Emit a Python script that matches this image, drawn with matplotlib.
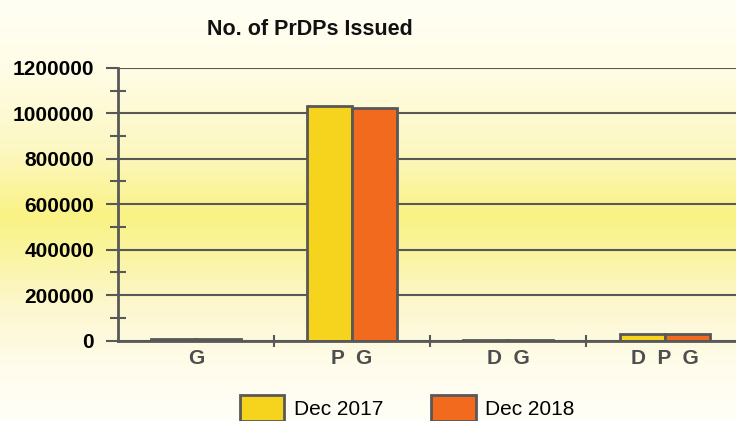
import numpy as np
import matplotlib.pyplot as plt
from matplotlib.patches import Patch

# data
categories = ["G", "P  G", "D  G", "D  P  G"]
dec_2017 = [8000, 1030000, 2000, 28000]
dec_2018 = [8000, 1025000, 2000, 28000]
series_labels = ["Dec 2017", "Dec 2018"]
y_ticks = [0, 200000, 400000, 600000, 800000, 1000000, 1200000]

yellow = "#f6d31c"
orange = "#f26a1e"
edge = "#585858"

plt.rcParams["font.family"] = ["Liberation Sans", "DejaVu Sans"]

fig = plt.figure(figsize=(7.36, 4.21), dpi=100)

# pale yellow band behind everything
bg = fig.add_axes([0, 0, 1, 1], zorder=-10)
rows = np.arange(421)
stops = [0, 70, 150, 215, 250, 310, 370, 421]
r = np.interp(rows, stops, [1.00, 1.00, 0.99, 0.98, 0.98, 0.99, 1.00, 1.00])
g = np.interp(rows, stops, [1.00, 0.99, 0.97, 0.95, 0.96, 0.97, 0.99, 1.00])
b = np.interp(rows, stops, [0.96, 0.90, 0.76, 0.52, 0.62, 0.82, 0.93, 0.97])
img = np.stack([r, g, b], axis=1)[:, None, :]
bg.imshow(img, aspect="auto", extent=[0, 1, 0, 1])
bg.axis("off")

ax = fig.add_axes([0.160, 0.191, 0.849, 0.648])
ax.patch.set_alpha(0)

x = np.arange(len(categories))
w = 0.288
ax.bar(x - w / 2, dec_2017, w, color=yellow, edgecolor=edge, linewidth=2, zorder=3)
ax.bar(x + w / 2, dec_2018, w, color=orange, edgecolor=edge, linewidth=2, zorder=3)

ax.set_xlim(-0.5, 3.5)
ax.set_ylim(0, 1200000)

ax.set_yticks(y_ticks)
ax.set_yticklabels([str(v) for v in y_ticks], fontsize=15, fontweight="bold")
ax.set_yticks(np.arange(100000, 1200000, 200000), minor=True)
ax.tick_params(axis="y", which="major", direction="out", length=9, width=1.5,
               color=edge, pad=8)
ax.tick_params(axis="y", which="minor", direction="inout", length=12, width=1.5,
               color=edge)
ax.grid(axis="y", which="major", color=edge, linewidth=1.5, zorder=1)

ax.set_xticks([0.5, 1.5, 2.5, 3.5])
ax.set_xticklabels([])
ax.set_xticks(x, minor=True)
ax.set_xticklabels(categories, minor=True, fontsize=15, fontweight="bold",
                   color="#4e4e4e")
ax.tick_params(axis="x", which="major", direction="inout", length=9, width=1.5,
               color=edge)
ax.tick_params(axis="x", which="minor", length=0, pad=6)

for side in ["top", "right"]:
    ax.spines[side].set_visible(False)
ax.spines["left"].set_color(edge)
ax.spines["left"].set_linewidth(2)
ax.spines["bottom"].set_color(edge)
ax.spines["bottom"].set_linewidth(2)
ax.spines["bottom"].set_zorder(4)

fig.text(0.421, 0.93, "No. of PrDPs Issued", fontsize=15.5, fontweight="bold",
         ha="center", va="center", color="#111111")

handles = [Patch(facecolor=yellow, edgecolor=edge, linewidth=2),
           Patch(facecolor=orange, edgecolor=edge, linewidth=2)]
fig.legend(handles, series_labels, loc="center", bbox_to_anchor=(0.553, 1 - 408 / 421),
           ncol=2, frameon=False, fontsize=15, handlelength=2.15, handleheight=1.5,
           handletextpad=0.45, columnspacing=2.3, borderpad=0)

fig.savefig("out.png", dpi=100)
